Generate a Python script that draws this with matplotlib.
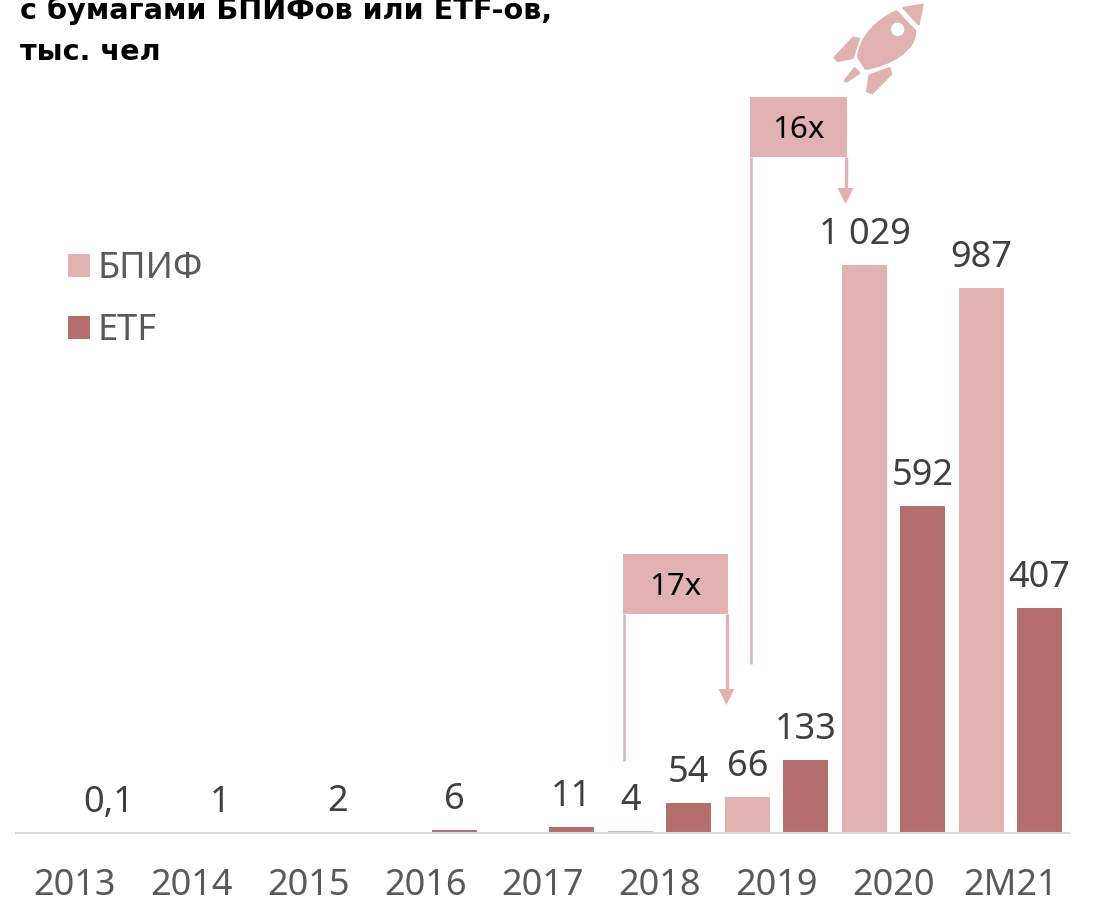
import matplotlib
matplotlib.use("Agg")
import matplotlib.pyplot as plt
import numpy as np
from matplotlib.patches import Circle, PathPatch, Polygon, Rectangle
from matplotlib.path import Path

LIGHT = "#e2b1b1"
DARK = "#b46e6e"
GREY = "#595959"
LABEL = "#404040"

plt.rcParams["font.family"] = ["Noto Sans", "DejaVu Sans"]

periods = ["2013", "2014", "2015", "2016", "2017", "2018", "2019", "2020", "2М21"]
bpif = [np.nan, np.nan, np.nan, np.nan, np.nan, 4, 66, 1029, 987]
etf = [0.1, 1, 2, 6, 11, 54, 133, 592, 407]
bpif_labels = ["", "", "", "", "", "4", "66", "1 029", "987"]
etf_labels = ["0,1", "1", "2", "6", "11", "54", "133", "592", "407"]

W, H = 1094, 901
fig = plt.figure(figsize=(W / 100, H / 100), dpi=100)
ax = fig.add_axes([16 / W, (H - 833) / H, 1053 / W, 833 / H])

x = np.arange(len(periods))
bars_a = ax.bar(x - 0.248, bpif, width=0.39, color=LIGHT, label="БПИФ")
bars_b = ax.bar(x + 0.248, etf, width=0.39, color=DARK, label="ETF")

ax.set_xlim(-0.5, 8.5)
ax.set_ylim(0, 833 / 0.552)
ax.set_yticks([])
ax.set_xticks(x, labels=periods)
ax.tick_params(axis="x", length=0, pad=25, labelsize=26, labelcolor=GREY)
ax.spines[["top", "right", "left"]].set_visible(False)
ax.spines["bottom"].set_color("#d9d9d9")
ax.spines["bottom"].set_linewidth(1.5)
ax.patch.set_alpha(0)

for bars, labels in [(bars_a, bpif_labels), (bars_b, etf_labels)]:
    for bar, label in zip(bars, labels):
        if label == "":
            continue
        dx = 3.6 if label == "0,1" else 0
        ax.annotate(
            label,
            (bar.get_x() + bar.get_width() / 2, bar.get_height()),
            xytext=(dx, 21.5),
            textcoords="offset points",
            ha="center",
            va="center",
            fontsize=26,
            color=LABEL,
        )

ax.legend(
    handles=[bars_a, bars_b],
    loc="upper left",
    bbox_to_anchor=(38 / 1053, (833 - 237) / 833),
    frameon=False,
    fontsize=26,
    labelcolor=GREY,
    handlelength=0.6,
    handleheight=0.6,
    handletextpad=0.2,
    labelspacing=0.72,
    borderpad=0.4,
    borderaxespad=0,
)

# overlay in pixel coordinates for the title, callouts and rocket
over = fig.add_axes([0, 0, 1, 1])
over.set_xlim(0, W)
over.set_ylim(H, 0)
over.axis("off")

over.text(20, 19, "с бумагами БПИФов или ETF-ов,", family="DejaVu Sans", weight="bold",
          fontsize=20.7, color="black", va="baseline")
over.text(20, 60, "тыс. чел", family="DejaVu Sans", weight="bold",
          fontsize=20.7, color="black", va="baseline")


def callout(left, right, top, bottom, left_end, arrow_y, text):
    over.add_patch(Rectangle((left, top), right - left, bottom - top, color=LIGHT, lw=0))
    over.plot([left + 1, left + 1], [bottom, left_end], color=LIGHT, lw=1.8, solid_capstyle="butt")
    over.plot([right - 1.5, right - 1.5], [bottom, arrow_y], color=LIGHT, lw=2.4, solid_capstyle="butt")
    over.add_patch(Polygon([(right - 9.5, arrow_y), (right + 6.5, arrow_y), (right - 1.5, arrow_y + 16)],
                           color=LIGHT, lw=0))
    over.text((left + right) / 2, (top + bottom) / 2 + 3, text, ha="center", va="center",
              fontsize=22.5, color="black")


callout(750, 847, 97, 157, 664, 188, "16x")
callout(623, 728, 554, 614, 761, 689, "17x")


def rk(points):
    return [(730 + px / 3, py / 3) for px, py in points]


C = Path.CURVE4
L = Path.LINETO
M = Path.MOVETO
body = rk([(500, 30), (440, 55), (385, 110), (381, 172), (405, 210),
           (480, 200), (565, 150), (558, 90), (500, 30)])
over.add_patch(PathPatch(Path(body, [M, C, C, C, L, C, C, C, L]), color=LIGHT, lw=0))
nose = rk([(520, 24), (578, 14), (566, 73)])
fin_style = dict(facecolor=LIGHT, edgecolor=LIGHT, lw=1.5, joinstyle="round")
over.add_patch(Polygon(nose, **fin_style))
over.add_patch(Polygon(rk([(314, 172), (370, 112), (387, 116), (368, 174), (322, 183)]), **fin_style))
over.add_patch(Polygon(rk([(418, 226), (478, 204), (484, 222), (426, 280), (411, 274)]), **fin_style))
over.add_patch(Polygon(rk([(374, 204), (388, 219), (350, 245), (344, 242)]), **fin_style))
over.add_patch(Circle((730 + 503 / 3, 88 / 3), 6.7, color="white", lw=0))

fig.savefig("out.png", dpi=100)
